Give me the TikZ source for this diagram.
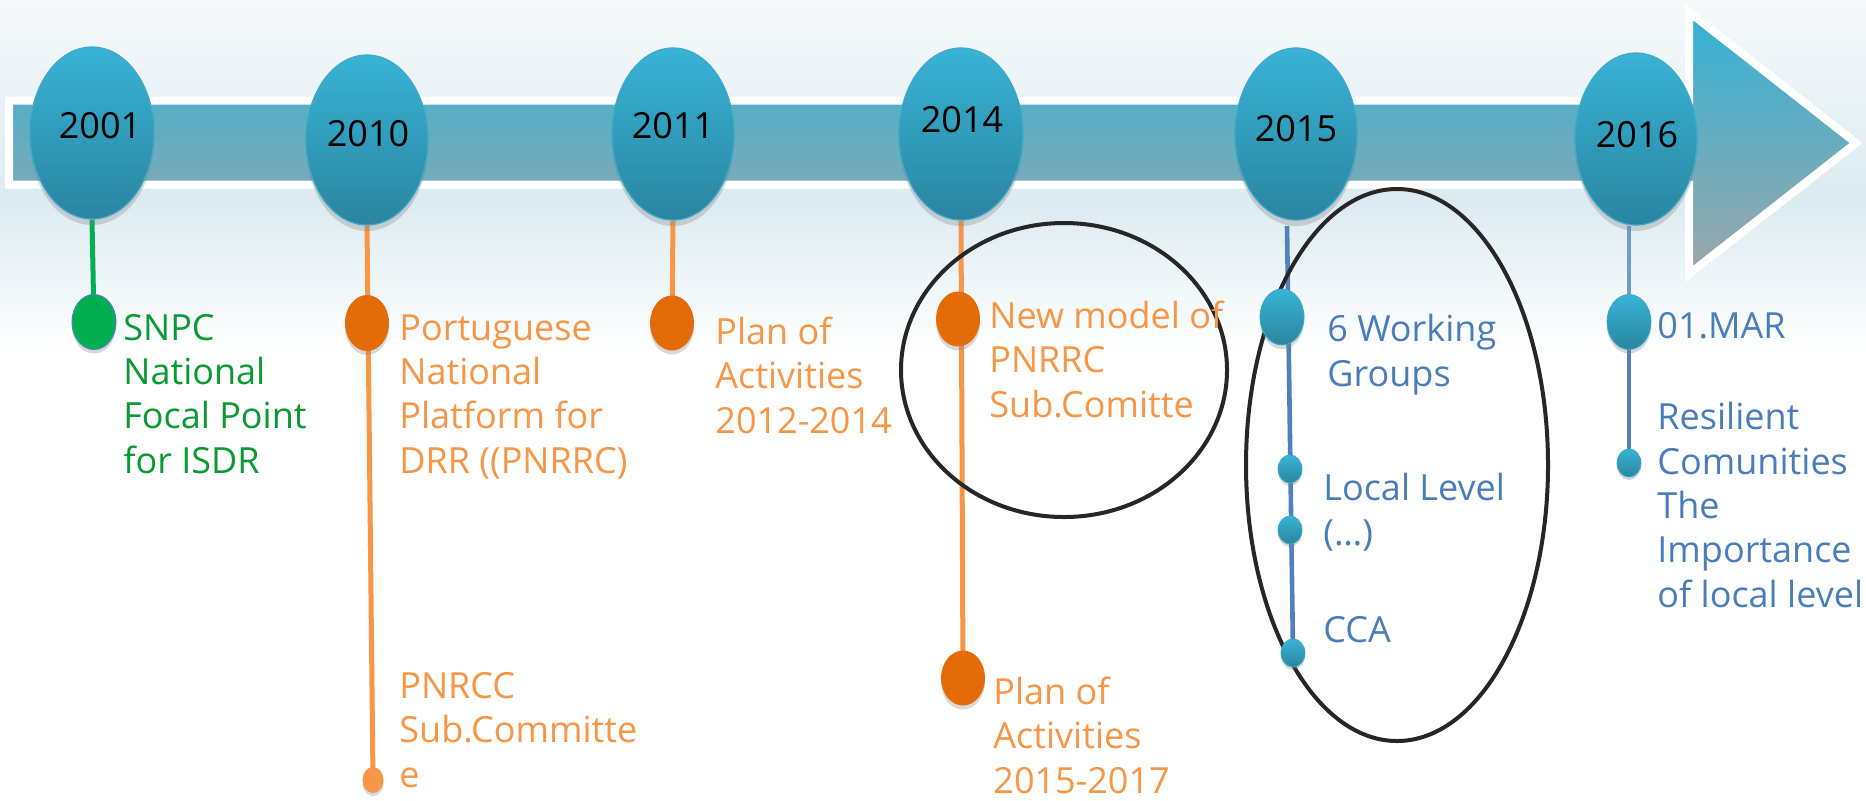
\documentclass[tikz,border=0pt]{standalone}
\usepackage{fontspec}
\setmainfont{Open Sans}
\usetikzlibrary{shapes.geometric,shadows}
\pgfdeclarelayer{back}
\pgfdeclarelayer{mid}
\pgfsetlayers{back,mid,main}
\definecolor{bgA}{HTML}{F6F9FB}
\definecolor{bgB}{HTML}{DCEBF1}
\definecolor{arrTop}{HTML}{33B2D6}
\definecolor{arrBot}{HTML}{9CA6A9}
\definecolor{ellTop}{HTML}{38B3D6}
\definecolor{ellBot}{HTML}{2A859F}
\definecolor{ellEdge}{HTML}{3CA9C9}
\definecolor{grnLine}{HTML}{00B050}
\definecolor{grnText}{HTML}{0A9A32}
\definecolor{orgLine}{HTML}{F79646}
\definecolor{orgDot}{HTML}{E36C09}
\definecolor{bluLine}{HTML}{4F81BD}
\definecolor{bluLight}{HTML}{6F9BD0}
\definecolor{bluText}{HTML}{4A7EBB}
\definecolor{ringCol}{HTML}{262626}
\tikzset{
  yearnode/.style={ellipse, inner sep=0pt, minimum width=61pt, minimum height=86pt,
    top color=ellTop, bottom color=ellBot, draw=ellEdge, line width=0.6pt,
    drop shadow={opacity=0.3, shadow xshift=0pt, shadow yshift=-3pt}},
  yeartext/.style={inner sep=0pt, text=black, font=\fontsize{18}{22}\selectfont},
  dotbig/.style={ellipse, inner sep=0pt, minimum width=22pt, minimum height=27.5pt,
    drop shadow={opacity=0.3, shadow xshift=0pt, shadow yshift=-2pt}},
  dotsmall/.style={ellipse, inner sep=0pt, minimum width=12pt, minimum height=14pt,
    drop shadow={opacity=0.3, shadow xshift=0pt, shadow yshift=-1.5pt}},
  greendot/.style={fill=grnLine, draw=bluLine, line width=0.5pt},
  orangedot/.style={fill=orgDot},
  bluedot/.style={top color=ellTop, bottom color=ellBot, draw=ellEdge, line width=0.4pt},
  txt/.style={inner sep=0pt, anchor=base west, align=left, font=\fontsize{18}{22.15}\selectfont},
  grnconn/.style={draw=grnLine, line width=2.5pt},
  orgconn/.style={draw=orgLine, line width=2.5pt},
  bluconn/.style={draw=bluLine, line width=2.3pt},
  ring/.style={ellipse, inner sep=0pt, draw=ringCol, line width=2pt}
}
\begin{document}
\begin{tikzpicture}[x=0.5pt, y=-0.5pt]
\useasboundingbox (0,0) rectangle (1866,800);
\begin{pgfonlayer}{back}
  \fill[white] (0,0) rectangle (1866,800);
  \shade[top color=bgA, bottom color=bgB] (0,0) rectangle (1866,200);
  \shade[top color=bgB, bottom color=white] (0,200) rectangle (1866,352);
  \shadedraw[top color=arrTop, bottom color=arrBot, draw=white, line width=4pt, line join=miter]
    (9,100.5) -- (1689,100.5) -- (1689,12) -- (1856,143) -- (1689,274) -- (1689,184.5) -- (9,184.5) -- cycle;
\end{pgfonlayer}

% year ellipses
\node[yearnode, minimum width=62pt] (y2001) at (92,133) {};
\node[yearnode, minimum height=85pt] (y2010) at (367,140) {};
\node[yearnode] (y2011) at (673,134) {};
\node[yearnode, minimum width=62pt] (y2014) at (961,134) {};
\node[yearnode] (y2015) at (1296,134) {};
\node[yearnode] (y2016) at (1636,139) {};
\node[yeartext] (l2001) at (100,126) {2001};
\node[yeartext] (l2010) at (368,134) {2010};
\node[yeartext] (l2011) at (673,126) {2011};
\node[yeartext] (l2014) at (962,120) {2014};
\node[yeartext] (l2015) at (1296,129) {2015};
\node[yeartext] (l2016) at (1637,135) {2016};

% dots
\node[dotbig, greendot] (d2001) at (94,322) {};
\node[dotbig, orangedot, minimum height=28pt] (d2010a) at (367,323) {};
\node[dotsmall, fill=orgLine, minimum width=10.5pt, minimum height=13pt] (d2010b) at (373,780) {};
\node[dotbig, orangedot] (d2011) at (672,323) {};
\node[dotbig, orangedot] (d2014a) at (958,319) {};
\node[dotbig, orangedot] (d2014b) at (963,678) {};
\node[dotbig, bluedot, minimum height=28pt] (d2015a) at (1282,317) {};
\node[dotsmall, bluedot] (d2015b) at (1290,469) {};
\node[dotsmall, bluedot] (d2015c) at (1290,530) {};
\node[dotsmall, bluedot] (d2015d) at (1293,653) {};
\node[dotbig, bluedot] (d2016a) at (1629,322) {};
\node[dotsmall, bluedot] (d2016b) at (1629,463) {};

\coordinate (c2015top) at (1287,226);
\coordinate (c2016top) at (1629,226);

% connectors and rings
\begin{pgfonlayer}{mid}
  \draw[grnconn] (y2001.south) -- (d2001.center);
  \draw[orgconn] (y2010.south) -- (d2010b.center);
  \draw[orgconn] (y2011.south) -- (d2011.center);
  \draw[orgconn] (y2014.south) -- (d2014b.center);
  \draw[bluconn] (c2015top) -- (d2015d.center);
  \draw[bluconn, draw=bluLight] (c2016top) -- (d2016a.center);
  \draw[bluconn] (d2016a.center) -- (d2016b.center);
  \node[ring, minimum width=163pt, minimum height=147pt] (ring2014) at (1064,370) {};
  \node[ring, minimum width=151pt, minimum height=276pt] (ring2015) at (1397,465) {};
\end{pgfonlayer}

% texts (anchored at the baseline of their last line)
\node[txt, text=grnText] (t2001) at (123,473) {SNPC\\National\\Focal Point\\for ISDR};
\node[txt, text=orgLine] (t2010a) at (399,473) {Portuguese\\National\\Platform for\\DRR ((PNRRC)};
\node[txt, text=orgLine] (t2010b) at (399,787) {PNRCC\\Sub.Committe\\e};
\node[txt, text=orgLine] (t2011) at (715,433) {Plan of\\Activities\\2012-2014};
\node[txt, text=orgLine] (t2014a) at (989,417) {New model of\\PNRRC\\Sub.Comitte};
\node[txt, text=orgLine] (t2014b) at (993,793) {Plan of\\Activities\\2015-2017};
\node[txt, text=bluText] (t2015a) at (1327,386) {6 Working\\Groups};
\node[txt, text=bluText] (t2015b) at (1323,545) {Local Level\\(…)};
\node[txt, text=bluText] (t2015c) at (1323,642) {CCA};
\node[txt, text=bluText] (t2016a) at (1657,338) {01.MAR};
\node[txt, text=bluText] (t2016b) at (1657,607) {Resilient\\Comunities\\The\\Importance\\of local level};
\end{tikzpicture}
\end{document}
